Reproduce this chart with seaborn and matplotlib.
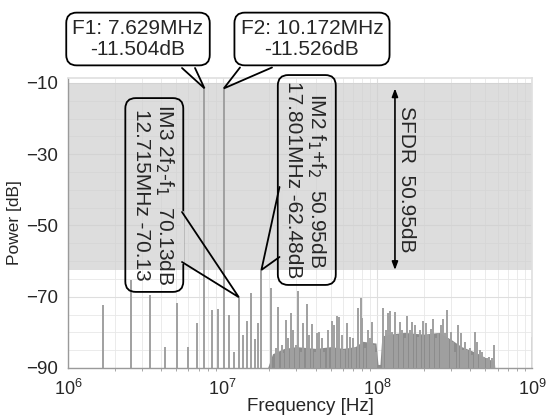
import numpy as np
import matplotlib
matplotlib.use("Agg")
import matplotlib.pyplot as plt
import seaborn as sns
from matplotlib.lines import Line2D
from matplotlib.transforms import IdentityTransform
from matplotlib.ticker import LogLocator, MultipleLocator, NullFormatter, FixedLocator

# tones on the 0.8477 MHz bin grid, up to IM2 (MHz, dB)
tone_freq = [1.695, 2.543, 3.391, 4.238, 5.086, 5.934, 6.781, 7.629, 8.477, 9.324,
             10.172, 11.020, 11.868, 12.715, 13.563, 14.410, 15.258, 16.106, 16.953, 17.801]
tone_db = [-72.3, -65.3, -69.5, -84.0, -71.7, -84.1, -77.5, -11.504, -73.7, -73.5,
           -11.526, -75.1, -85.4, -70.13, -80.7, -76.8, -68.9, -81.9, -77.5, -62.48]

# spurs above 20 MHz (MHz, dB)
spur_freq = [20.53, 22.12, 22.89, 24.08, 24.66, 25.56, 26.57, 27.66, 28.62, 29.66,
             30.56, 32.10, 32.92, 35.26, 36.32, 37.98, 39.54, 40.55, 41.96, 43.69,
             45.41, 48.19, 50.69, 52.46, 54.61, 56.50, 58.83, 60.88, 63.94, 66.56,
             69.29, 71.71, 75.32, 78.43, 79.96, 83.23, 86.65, 89.68, 92.79, 95.60,
             98.04, 109.3, 113.3, 116.7, 120.8, 125.0, 130.1, 134.6, 140.1, 145.0,
             151.0, 156.2, 162.6, 168.3, 175.2, 182.4, 188.7, 198.3, 205.5, 213.6,
             222.3, 230.1, 238.4, 247.9, 258.0, 267.0, 273.8, 280.8, 287.6, 298.1,
             309.8, 317.8, 333.8, 345.9, 356.4, 368.8, 381.6, 397.3, 411.1, 428.0,
             442.9, 461.1, 477.1, 491.5, 509.4, 527.2, 548.8, 570.4, 995.0]
spur_db = [-67.6, -84.5, -72.8, -83.5, -85.8, -76.5, -81.7, -74.6, -79.3, -83.5,
           -68.5, -85.4, -77.5, -72.0, -80.7, -77.7, -85.4, -80.3, -79.8, -81.7,
           -85.4, -79.3, -76.7, -77.9, -75.3, -75.6, -80.7, -85.0, -77.3, -81.2,
           -81.7, -84.5, -73.2, -70.4, -76.0, -84.5, -79.3, -81.7, -77.0, -83.5,
           -85.4, -73.2, -79.3, -74.6, -74.0, -79.8, -74.4, -80.7, -77.0, -79.3,
           -81.7, -75.4, -79.3, -77.0, -77.9, -81.2, -79.3, -76.7, -77.5, -80.7,
           -79.1, -76.3, -81.7, -80.3, -77.9, -76.3, -80.3, -73.7, -81.7, -79.8,
           -82.6, -85.4, -77.9, -80.3, -85.0, -82.6, -85.0, -84.5, -86.3, -80.0,
           -82.6, -85.0, -85.4, -86.8, -87.3, -86.8, -87.3, -83.5, -81.2]

# dense low-level floor under the spurs (MHz, dB)
floor_freq = [19.5, 21.0, 25.0, 30.0, 40.0, 50.0, 60.0, 72.0, 80.0, 98.0, 101.0,
              104.0, 107.0, 120.0, 150.0, 200.0, 250.0, 300.0, 350.0, 400.0, 450.0,
              520.0, 570.0, 575.0]
floor_db = [-90.0, -86.0, -84.5, -84.0, -84.5, -84.0, -84.5, -84.0, -82.5, -83.0, -89.0,
            -89.0, -81.0, -80.5, -80.0, -80.5, -80.0, -82.0, -84.0, -85.0, -86.0,
            -87.5, -88.0, -90.0]

sfdr_top, sfdr_bottom = -11.526, -62.48

W, H = 547, 417
sns.set_theme(style="whitegrid")
plt.rcParams['font.family'] = ['Liberation Sans', 'DejaVu Sans']

fig = plt.figure(figsize=(W / 100, H / 100), dpi=100)
ax = fig.add_axes([68 / W, 49 / H, 464 / W, 290 / H])
ax.set_xscale('log')
ax.set_xlim(1e6, 1e9)
ax.set_ylim(-90, -8.6)

bar_col = '#a0a0a0'
shade_col = '#dcdcdc'
ax.axhspan(sfdr_bottom, -10, color='#cfcfcf', alpha=0.7, lw=0, zorder=0.6)
ax.fill_between(np.array(floor_freq) * 1e6, -90, floor_db, color='#8c8c8c', lw=0, zorder=2)
ax.vlines(np.array(tone_freq) * 1e6, -90, tone_db, color=bar_col, lw=1.4, zorder=2)
ax.vlines(np.array(spur_freq) * 1e6, -90, spur_db, color=bar_col, lw=1.4, zorder=2)

# grid and ticks
ax.xaxis.set_major_locator(LogLocator(base=10, numticks=10))
ax.xaxis.set_minor_locator(LogLocator(base=10, subs=np.arange(2, 10), numticks=20))
ax.xaxis.set_minor_formatter(NullFormatter())
ax.yaxis.set_major_locator(FixedLocator([-90, -70, -50, -30, -10]))
ax.yaxis.set_minor_locator(MultipleLocator(5))
ax.grid(which='major', color='#dedede', lw=0.8)
ax.grid(which='minor', color='#e8e8e8', lw=0.6)
ax.tick_params(axis='both', which='major', length=3, width=0.8, color='#999999', pad=4)
ax.tick_params(axis='x', which='minor', length=2, width=0.6, color='#999999', bottom=True)
ax.tick_params(axis='x', labelsize=13, pad=5)
ax.tick_params(axis='y', labelsize=13.5)
for side in ['top', 'right']:
    ax.spines[side].set_color('#e0e0e0')
for side in ['left', 'bottom']:
    ax.spines[side].set_color('#9a9a9a')
    ax.spines[side].set_linewidth(1.0)

ax.set_xlabel('Frequency [Hz]', fontsize=13.5)
ax.xaxis.set_label_coords(0.523, -0.105)
ax.set_ylabel('Power [dB]', fontsize=12.5)
ax.yaxis.set_label_coords(-0.1, 0.5)

# callouts: box text plus a tail drawn in image pixels (y from top)
box = dict(boxstyle='round,pad=0.3,rounding_size=0.5', fc='none', ec='black', lw=1.3)


def callout(text, center, xy, base, gap_col, rot=0):
    fig.text(center[0] / W, 1 - center[1] / H, text, ha='center', va='center', fontsize=15,
             rotation=rot, multialignment='center', linespacing=1.15, bbox=box, zorder=5)
    tip = ax.transData.transform(xy)
    (x0, y0), (x1, y1) = base
    p0, p1 = (x0, H - y0), (x1, H - y1)
    fig.add_artist(Line2D([p0[0], p1[0]], [p0[1], p1[1]], transform=IdentityTransform(),
                          color=gap_col, lw=2.4, zorder=5.5))
    fig.add_artist(Line2D([p0[0], tip[0], p1[0]], [p0[1], tip[1], p1[1]],
                          transform=IdentityTransform(), color='black', lw=1.3, zorder=6,
                          solid_joinstyle='miter'))


callout('F1: 7.629MHz\n-11.504dB', (138, 39), (tone_freq[7] * 1e6, tone_db[7]),
        [(182, 68), (195, 68)], 'white')
callout('F2: 10.172MHz\n-11.526dB', (312, 39), (tone_freq[10] * 1e6, tone_db[10]),
        [(240, 67.5), (272, 67.5)], 'white')
callout('IM3 2f$_2$-f$_1$  70.13dB\n12.715MHz -70.13', (153.5, 195),
        (tone_freq[13] * 1e6, tone_db[13]), [(182, 212), (182, 262)], shade_col, rot=270)
callout('IM2 f$_1$+f$_2$  50.95dB\n17.801MHz -62.48dB', (306, 180),
        (tone_freq[19] * 1e6, tone_db[19]), [(279.5, 187), (279.5, 257)], shade_col, rot=270)

# SFDR arrow
ax.annotate('', xy=(1.3e8, sfdr_bottom), xytext=(1.3e8, sfdr_top),
            arrowprops=dict(arrowstyle='<|-|>,head_length=0.4,head_width=0.15', color='black',
                            lw=1.2, shrinkA=0, shrinkB=0), zorder=5)
ax.text(1.55e8, (sfdr_top + sfdr_bottom) / 2, 'SFDR  50.95dB', rotation=270, ha='center',
        va='center', fontsize=15, zorder=5)

fig.savefig('out.png', dpi=100)
